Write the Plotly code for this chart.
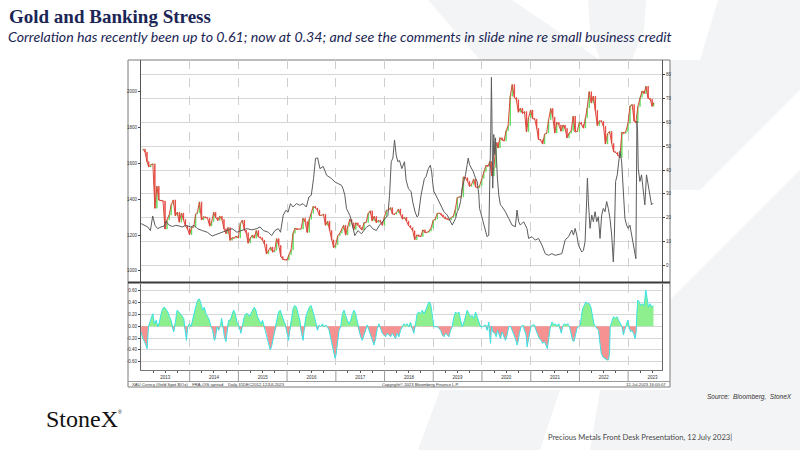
import calendar
import numpy as np
import pandas as pd
import plotly.graph_objects as go

# ---------------- data ----------------
# Gold spot, semi-monthly closes (15th and month end), Jan-2013 .. 12-Jul-2023
gold_2013 = [1680, 1663, 1610, 1580, 1592, 1597, 1350, 1472, 1395, 1392, 1390, 1234,
             1285, 1312, 1368, 1396, 1308, 1327, 1272, 1323, 1287, 1251, 1235, 1202]
gold_2014 = [1242, 1244, 1318, 1326, 1385, 1284, 1302, 1296, 1294, 1250, 1275, 1327,
             1297, 1282, 1305, 1287, 1235, 1209, 1242, 1171, 1185, 1183, 1194, 1184]
gold_2015 = [1265, 1283, 1228, 1213, 1155, 1183, 1200, 1183, 1225, 1190, 1185, 1172,
             1150, 1095, 1115, 1133, 1105, 1115, 1180, 1142, 1080, 1065, 1062, 1061]
gold_2016 = [1090, 1118, 1210, 1238, 1232, 1233, 1234, 1293, 1275, 1215, 1288, 1322,
             1360, 1351, 1340, 1309, 1310, 1316, 1255, 1277, 1225, 1173, 1130, 1146]
gold_2017 = [1196, 1211, 1233, 1255, 1200, 1249, 1288, 1268, 1230, 1268, 1255, 1242,
             1228, 1269, 1270, 1320, 1335, 1280, 1304, 1270, 1282, 1275, 1255, 1303]
gold_2018 = [1338, 1340, 1353, 1318, 1316, 1325, 1345, 1315, 1290, 1299, 1278, 1253,
             1241, 1224, 1174, 1201, 1194, 1192, 1229, 1214, 1215, 1222, 1238, 1282]
gold_2019 = [1289, 1321, 1322, 1313, 1302, 1292, 1289, 1284, 1297, 1305, 1342, 1409,
             1413, 1413, 1524, 1520, 1500, 1472, 1482, 1513, 1468, 1464, 1476, 1517]
gold_2020 = [1555, 1589, 1584, 1610, 1530, 1577, 1716, 1687, 1743, 1730, 1726, 1781,
             1810, 1975, 2040, 1968, 1955, 1886, 1908, 1879, 1889, 1776, 1855, 1898]
gold_2021 = [1850, 1847, 1795, 1734, 1731, 1708, 1764, 1769, 1844, 1906, 1858, 1770,
             1829, 1814, 1780, 1814, 1795, 1743, 1768, 1783, 1863, 1776, 1778, 1829]
gold_2022 = [1818, 1797, 1854, 1909, 2000, 1937, 1975, 1896, 1811, 1838, 1835, 1807,
             1708, 1766, 1778, 1711, 1665, 1661, 1645, 1633, 1773, 1768, 1778, 1824]
gold_2023 = [1920, 1928, 1836, 1827, 1918, 1969, 2004, 1990, 2030, 1963, 1958, 1919,
             1938]
gold_last_date = "2023-07-12"

# FRA-OIS spread (bp), time in years since 1-Jan-2013
fra_years = [0.003, 0.071, 0.139, 0.193, 0.24, 0.288, 0.342, 0.41, 0.478, 0.512, 0.58, 0.647,
             0.715, 0.783, 0.851, 0.919, 1.02, 1.088, 1.156, 1.258, 1.36, 1.461, 1.563, 1.664,
             1.766, 1.868, 1.969, 2.071, 2.173, 2.275, 2.376, 2.444, 2.512, 2.614, 2.681, 2.749,
             2.817, 2.864, 2.919, 2.973, 3.02, 3.068, 3.122, 3.19, 3.258, 3.325, 3.393, 3.447,
             3.495, 3.542, 3.583, 3.626, 3.673, 3.741, 3.81, 3.912, 3.98, 4.048, 4.116, 4.15,
             4.184, 4.218, 4.252, 4.286, 4.32, 4.354, 4.388, 4.456, 4.524, 4.626, 4.694, 4.762,
             4.83, 4.898, 4.946, 5.0, 5.068, 5.102, 5.136, 5.17, 5.204, 5.238, 5.272, 5.306,
             5.354, 5.408, 5.442, 5.49, 5.544, 5.578, 5.626, 5.667, 5.694, 5.748, 5.816, 5.85,
             5.898, 5.939, 5.966, 6.0, 6.014, 6.082, 6.15, 6.218, 6.286, 6.354, 6.389, 6.423,
             6.457, 6.491, 6.525, 6.559, 6.593, 6.627, 6.661, 6.695, 6.716, 6.743, 6.784, 6.818,
             6.866, 6.9, 6.934, 6.948, 6.968, 7.002, 7.036, 7.07, 7.104, 7.138, 7.159, 7.179,
             7.193, 7.207, 7.22, 7.241, 7.261, 7.275, 7.295, 7.316, 7.343, 7.377, 7.411, 7.479,
             7.547, 7.616, 7.684, 7.718, 7.752, 7.786, 7.854, 7.922, 7.956, 8.025, 8.093, 8.161,
             8.229, 8.297, 8.365, 8.434, 8.502, 8.57, 8.638, 8.706, 8.774, 8.843, 8.877, 8.911,
             8.945, 8.979, 9.047, 9.081, 9.115, 9.149, 9.163, 9.183, 9.217, 9.252, 9.286, 9.32,
             9.354, 9.388, 9.422, 9.456, 9.49, 9.524, 9.558, 9.592, 9.626, 9.661, 9.695, 9.715,
             9.742, 9.776, 9.811, 9.831, 9.865, 9.899, 9.933, 9.967, 10.001, 10.035, 10.07,
             10.104, 10.138, 10.158, 10.179, 10.193, 10.206, 10.24, 10.274, 10.308, 10.342,
             10.376, 10.41, 10.444, 10.479, 10.513]
fra_bps = [17.5, 16.8, 16.1, 14.6, 20.7, 16.8, 15.4, 16.1, 16.5, 18.5, 16.8, 16.3,
           16.8, 16.5, 16.1, 16.8, 16.1, 16.8, 15.4, 14.6, 13.9, 12.3, 13.2, 13.9,
           14.6, 15.4, 13.9, 14.6, 15.4, 14.9, 15.4, 16.1, 14.6, 13.9, 12.5, 14.6,
           15.4, 13.9, 21.0, 23.1, 22.4, 25.9, 24.5, 25.9, 25.2, 25.9, 24.5, 28.7,
           29.4, 36.5, 44.9, 45.1, 40.6, 41.5, 37.8, 36.4, 35.0, 34.3, 33.6, 32.0,
           29.4, 23.8, 22.6, 21.0, 18.6, 15.3, 12.5, 14.6, 13.2, 16.0, 16.9, 15.3,
           14.6, 16.9, 18.1, 19.5, 21.0, 29.4, 43.5, 45.0, 52.6, 46.3, 43.5, 44.0,
           40.6, 43.5, 35.7, 32.2, 30.9, 26.6, 22.4, 20.3, 21.0, 29.4, 36.4, 37.2,
           40.6, 42.0, 39.2, 32.4, 31.0, 28.2, 25.4, 22.5, 21.1, 18.3, 16.9, 18.3,
           19.7, 22.5, 23.9, 26.8, 32.4, 35.2, 38.0, 42.3, 45.0, 42.3, 40.8, 39.4,
           36.6, 35.2, 29.6, 23.9, 22.5, 19.7, 16.9, 14.1, 12.0, 12.7, 29.6, 56.3,
           78.9, 46.5, 32.4, 54.9, 46.5, 53.5, 42.3, 36.6, 29.6, 25.4, 24.6, 22.5,
           19.7, 16.9, 16.2, 23.2, 18.3, 16.9, 18.3, 15.5, 11.3, 12.0, 10.6, 11.3,
           8.5, 4.9, 4.2, 4.9, 4.2, 4.5, 4.9, 10.6, 12.0, 14.8, 12.7, 15.5,
           12.7, 8.5, 5.6, 6.3, 9.9, 28.2, 36.6, 26.8, 15.5, 21.1, 18.3, 22.5,
           18.3, 20.4, 11.3, 21.1, 23.9, 22.5, 26.8, 23.9, 19.7, 12.7, 1.4, 11.3,
           35.2, 38.0, 43.7, 47.9, 43.7, 32.4, 19.7, 16.9, 15.5, 16.9, 12.7,
           8.5, 4.2, 2.8, 60.6, 56.3, 40.8, 35.2, 38.0, 32.4, 25.4,
           38.0, 33.8, 29.6, 25.4, 26.1]

# Rolling correlation, time in years since 1-Jan-2013
corr_years = [0.003, 0.038, 0.072, 0.106, 0.126, 0.154, 0.195, 0.242, 0.276, 0.311, 0.345, 0.379,
              0.413, 0.447, 0.481, 0.515, 0.549, 0.584, 0.618, 0.652, 0.672, 0.7, 0.741, 0.775,
              0.809, 0.836, 0.877, 0.911, 0.932, 0.959, 0.993, 1.027, 1.061, 1.096, 1.13, 1.164,
              1.198, 1.232, 1.266, 1.3, 1.334, 1.369, 1.403, 1.437, 1.471, 1.505, 1.526, 1.56,
              1.594, 1.628, 1.655, 1.689, 1.71, 1.744, 1.765, 1.799, 1.833, 1.867, 1.901, 1.935,
              1.969, 2.003, 2.024, 2.051, 2.078, 2.119, 2.154, 2.188, 2.222, 2.256, 2.29, 2.324,
              2.358, 2.392, 2.427, 2.461, 2.495, 2.529, 2.563, 2.597, 2.631, 2.652, 2.679, 2.713,
              2.747, 2.788, 2.823, 2.857, 2.891, 2.925, 2.959, 2.986, 3.007, 3.027, 3.055, 3.089,
              3.123, 3.157, 3.191, 3.225, 3.259, 3.294, 3.328, 3.348, 3.382, 3.416, 3.457, 3.491,
              3.526, 3.56, 3.594, 3.621, 3.655, 3.689, 3.724, 3.758, 3.792, 3.826, 3.86, 3.894,
              3.928, 3.962, 3.983, 4.003, 4.031, 4.065, 4.099, 4.133, 4.167, 4.201, 4.235, 4.27,
              4.304, 4.338, 4.372, 4.406, 4.44, 4.474, 4.509, 4.543, 4.577, 4.611, 4.645, 4.679,
              4.713, 4.747, 4.782, 4.816, 4.85, 4.884, 4.918, 4.952, 4.986, 5.02, 5.055, 5.089,
              5.123, 5.157, 5.191, 5.225, 5.259, 5.294, 5.328, 5.362, 5.396, 5.43, 5.464, 5.498,
              5.532, 5.567, 5.601, 5.635, 5.669, 5.703, 5.737, 5.775, 5.809, 5.843, 5.877, 5.911,
              5.945, 5.98, 6.014, 6.048, 6.082, 6.116, 6.15, 6.184, 6.218, 6.253, 6.287, 6.321,
              6.355, 6.389, 6.423, 6.457, 6.491, 6.526, 6.56, 6.594, 6.628, 6.662, 6.696, 6.73,
              6.765, 6.799, 6.833, 6.867, 6.901, 6.935, 6.969, 7.003, 7.038, 7.072, 7.106, 7.14,
              7.154, 7.174, 7.195, 7.222, 7.263, 7.29, 7.317, 7.345, 7.379, 7.413, 7.447, 7.481,
              7.515, 7.549, 7.584, 7.618, 7.652, 7.686, 7.72, 7.741, 7.768, 7.802, 7.836, 7.877,
              7.904, 7.925, 7.945, 7.98, 8.007, 8.041, 8.075, 8.109, 8.143, 8.177, 8.212, 8.246,
              8.28, 8.314, 8.341, 8.369, 8.403, 8.437, 8.471, 8.505, 8.539, 8.573, 8.608, 8.628,
              8.655, 8.689, 8.724, 8.758, 8.792, 8.826, 8.86, 8.887, 8.915, 8.949, 8.983, 9.017,
              9.038, 9.065, 9.099, 9.133, 9.167, 9.201, 9.235, 9.27, 9.297, 9.324, 9.358, 9.392,
              9.413, 9.447, 9.481, 9.515, 9.563, 9.597, 9.618, 9.631, 9.666, 9.7, 9.734, 9.768,
              9.802, 9.836, 9.87, 9.884, 9.904, 9.925, 9.952, 9.973, 9.993, 10.02, 10.048, 10.075,
              10.109, 10.143, 10.164, 10.177, 10.198, 10.225, 10.259, 10.294, 10.328, 10.362,
              10.382, 10.416, 10.451, 10.485, 10.519]
corr_vals = [-0.10, -0.21, -0.26, -0.35, -0.38, 0.00, 0.10, 0.21, 0.04, 0.10, -0.01, 0.07,
             0.21, 0.30, 0.32, 0.27, 0.24, 0.16, 0.10, -0.04, -0.10, 0.04, 0.27, 0.24,
             0.21, 0.18, 0.13, -0.07, -0.24, -0.01, 0.04, -0.01, 0.13, 0.24, 0.35, 0.44,
             0.46, 0.38, 0.27, 0.32, 0.21, 0.16, 0.10, -0.01, -0.07, -0.24, -0.21, -0.01,
             -0.07, 0.00, 0.13, -0.04, -0.18, -0.26, -0.07, 0.10, 0.10, 0.21, 0.27, 0.21,
             0.07, 0.02, -0.04, -0.12, -0.01, 0.16, 0.21, 0.21, 0.16, 0.21, 0.27, 0.32,
             0.27, 0.16, 0.10, 0.04, 0.10, -0.01, -0.07, -0.21, -0.32, -0.40, -0.35, -0.21,
             -0.10, 0.10, 0.24, 0.27, 0.16, 0.10, 0.04, -0.07, -0.18, -0.24, -0.07, 0.16,
             0.30, 0.35, 0.32, 0.21, 0.10, -0.12, -0.24, -0.07, 0.16, 0.24, 0.32, 0.35,
             0.27, 0.16, 0.04, -0.07, 0.02, -0.01, 0.04, -0.01, 0.02, -0.01, -0.07, -0.21,
             -0.35, -0.49, -0.54, -0.49, -0.29, -0.07, -0.01, 0.21, 0.27, 0.16, 0.10, 0.04,
             0.10, 0.21, 0.27, 0.21, 0.07, -0.10, -0.18, -0.24, -0.15, -0.07, 0.02, -0.07,
             -0.15, -0.26, -0.32, -0.21, -0.04, 0.04, -0.04, -0.12, -0.15, -0.18, -0.12, -0.15,
             -0.18, -0.12, -0.18, -0.21, -0.12, -0.18, -0.07, -0.01, 0.04, 0.02, 0.04, -0.01,
             0.07, -0.04, -0.12, 0.04, 0.21, 0.24, 0.21, 0.27, 0.21, 0.27, 0.35, 0.41,
             0.38, 0.13, -0.01, -0.01, -0.01, -0.04, -0.07, -0.15, -0.18, -0.12, -0.15, -0.18,
             -0.07, -0.01, 0.16, 0.24, 0.21, 0.24, 0.10, -0.01, 0.07, 0.18, 0.27, 0.21,
             0.16, 0.18, 0.13, 0.24, 0.16, 0.07, -0.01, -0.01, 0.00, 0.02, -0.07, 0.07,
             -0.12, -0.29, 0.00, -0.10, -0.12, -0.18, -0.07, -0.15, -0.21, -0.10, -0.18, -0.24,
             -0.15, -0.01, 0.00, -0.07, -0.12, -0.21, -0.32, -0.26, -0.12, -0.01, 0.02, -0.07,
             -0.15, -0.35, -0.26, -0.07, 0.00, 0.02, 0.02, -0.07, -0.15, -0.21, -0.24, -0.29,
             -0.26, -0.32, -0.38, -0.21, -0.01, 0.07, 0.02, 0.04, 0.00, 0.04, -0.07, -0.12,
             0.00, 0.04, 0.02, 0.04, 0.00, -0.12, -0.24, -0.26, -0.18, -0.04, 0.00, 0.02,
             0.16, 0.30, 0.35, 0.41, 0.38, 0.38, 0.32, 0.16, 0.04, 0.00, -0.04, -0.07,
             -0.24, -0.46, -0.52, -0.54, -0.57, -0.57, -0.46, 0.00, 0.07, 0.16, 0.13, 0.16,
             0.10, 0.04, 0.00, -0.07, -0.15, -0.07, 0.00, 0.07, 0.10, 0.00, -0.10, -0.07,
             -0.12, -0.21, -0.10, 0.21, 0.44, 0.41, 0.35, 0.38, 0.35, 0.61,
             0.46, 0.32, 0.38, 0.32, 0.35]

left_ticks = [1000, 1200, 1400, 1600, 1800, 2000]
right_ticks = [0, 10, 20, 30, 40, 50, 60, 70, 80]
corr_ticks = [-0.6, -0.4, -0.2, 0.0, 0.2, 0.4, 0.6]
year_starts = [f"{y}-01-01" for y in range(2013, 2024)]

# ---------------- derived ----------------
W, H = 800, 450
def px(x):
    return x / W
def py(y):
    return 1 - y / H

origin = pd.Timestamp("2013-01-01")
def yr2date(t):
    return origin + pd.to_timedelta(np.asarray(t, dtype=float) * 365.25, unit="D")

gold_close = (gold_2013 + gold_2014 + gold_2015 + gold_2016 + gold_2017 + gold_2018 +
              gold_2019 + gold_2020 + gold_2021 + gold_2022 + gold_2023)
gold_dates = []
for yy in range(2013, 2024):
    for mm in range(1, 13):
        for dd in (15, calendar.monthrange(yy, mm)[1]):
            gold_dates.append(pd.Timestamp(yy, mm, dd))
gold_dates = gold_dates[:len(gold_close) - 1] + [pd.Timestamp(gold_last_date)]
gold_open = [gold_close[0]] + gold_close[:-1]
gold_high = [max(o, c) for o, c in zip(gold_open, gold_close)]
gold_low = [min(o, c) for o, c in zip(gold_open, gold_close)]

fra_dates = yr2date(fra_years)
corr_dates = yr2date(corr_years)
corr_arr = np.array(corr_vals)
corr_pos = np.maximum(corr_arr, 0)
corr_neg = np.minimum(corr_arr, 0)

# ---------------- figure ----------------
fig = go.Figure()

fig.add_trace(go.Scatter(x=fra_dates, y=fra_bps, mode="lines", yaxis="y2", xaxis="x",
                         line=dict(color="#5c5c5c", width=1), hoverinfo="skip"))
# thin connecting line under the candles
fig.add_trace(go.Scatter(x=gold_dates, y=gold_close, mode="lines", xaxis="x", yaxis="y",
                         line=dict(color="#d84a3a", width=1), hoverinfo="skip"))
fig.add_trace(go.Candlestick(x=gold_dates, open=gold_open, high=gold_high, low=gold_low,
                             close=gold_close, xaxis="x", yaxis="y",
                             increasing=dict(line=dict(color="#4cd84c", width=0.6), fillcolor="#4cd84c"),
                             decreasing=dict(line=dict(color="#e8312b", width=0.6), fillcolor="#e8312b"),
                             whiskerwidth=0, hoverinfo="skip"))

fig.add_trace(go.Scatter(x=corr_dates, y=corr_pos, mode="lines", fill="tozeroy",
                         fillcolor="#8def8d", line=dict(width=0, color="#8def8d"),
                         xaxis="x2", yaxis="y3", hoverinfo="skip"))
fig.add_trace(go.Scatter(x=corr_dates, y=corr_neg, mode="lines", fill="tozeroy",
                         fillcolor="#f79292", line=dict(width=0, color="#f79292"),
                         xaxis="x2", yaxis="y3", hoverinfo="skip"))
fig.add_trace(go.Scatter(x=corr_dates, y=corr_vals, mode="lines",
                         line=dict(color="#38e3e6", width=1),
                         xaxis="x2", yaxis="y3", hoverinfo="skip"))

tickfont = dict(family="Liberation Sans", size=4.5, color="#333333")
xr = ["2013-01-01", "2023-09-12"]
xdom = [px(141), px(662)]

# ---- watermark + chart frame shapes ----
def poly(points):
    return "M " + " L ".join(f"{px(x):.4f},{py(y):.4f}" for x, y in points) + " Z"

wm = "#f3f4f6"
shapes = []
for pts in [
    [(428, 0), (512, 0), (600, 60), (480, 60)],
    [(588, 0), (646, 0), (644, 30), (632, 60), (600, 60), (590, 30)],
    [(718, 0), (800, 0), (800, 90), (700, 190), (670, 190), (670, 60), (700, 60)],
    [(670, 300), (800, 170), (800, 450), (740, 450), (700, 390), (670, 390)],
    [(418, 450), (440, 390), (560, 390), (540, 450)],
    [(590, 450), (600, 390), (700, 390), (740, 450)],
]:
    shapes.append(dict(type="path", path=poly(pts), xref="paper", yref="paper",
                       fillcolor=wm, line=dict(width=0), layer="below"))
shapes.append(dict(type="rect", xref="paper", yref="paper", x0=px(128), x1=px(670),
                   y0=py(387), y1=py(60), fillcolor="white",
                   line=dict(color="#7a7a7a", width=1), layer="below"))
# heavy panel separator
shapes.append(dict(type="line", xref="paper", yref="paper", x0=px(128), x1=px(670),
                   y0=py(282.5), y1=py(282.5), line=dict(color="#3a3a3a", width=2)))
# separator above info row
shapes.append(dict(type="line", xref="paper", yref="paper", x0=px(128), x1=px(670),
                   y0=py(381.5), y1=py(381.5), line=dict(color="#9a9a9a", width=1)))
# year separators in the label row
for ys in year_starts[1:]:
    shapes.append(dict(type="line", xref="x2", yref="paper", x0=ys, x1=ys,
                       y0=py(370), y1=py(381.5), line=dict(color="#9a9a9a", width=1)))

fig.update_layout(
    width=W, height=H, margin=dict(l=0, r=0, t=0, b=0),
    paper_bgcolor="white", plot_bgcolor="rgba(0,0,0,0)",
    showlegend=False, shapes=shapes, boxgap=0.5,
    xaxis=dict(domain=xdom, range=xr, anchor="y", type="date", showticklabels=False,
               showgrid=True, gridcolor="#cfcfcf", griddash="dash", gridwidth=1,
               tick0="2013-01-01", dtick="M12", ticks="", zeroline=False,
               rangeslider=dict(visible=False), showline=False),
    yaxis=dict(domain=[py(282), py(60)], range=[938, 2177], tickvals=left_ticks,
               ticktext=[str(v) for v in left_ticks], tickfont=tickfont,
               ticks="outside", ticklen=2, tickcolor="#444", showline=True,
               linecolor="#555", linewidth=1, showgrid=False, zeroline=False),
    yaxis2=dict(overlaying="y", side="right", anchor="x", range=[-7, 86.2],
                tickvals=right_ticks, ticktext=[str(v) for v in right_ticks],
                tickfont=tickfont, ticks="outside", ticklen=2, tickcolor="#444",
                showline=True, linecolor="#555", linewidth=1, showgrid=True,
                gridcolor="#d6d6d6", gridwidth=1, zeroline=False),
    xaxis2=dict(domain=xdom, range=xr, anchor="y3", type="date", matches="x",
                tick0="2013-01-01", dtick="M12", ticklabelmode="period", tickformat="%Y",
                tickfont=tickfont, ticks="", showgrid=True, gridcolor="#cfcfcf",
                griddash="dash", showline=True, linecolor="#777", linewidth=1,
                zeroline=False, ticklabelstandoff=3,
                minor=dict(dtick="M3", tick0="2013-01-01", ticks="outside", ticklen=2,
                           tickcolor="#555", showgrid=False)),
    yaxis3=dict(domain=[py(370), py(283.5)], range=[-0.74, 0.72], anchor="x2",
                tickvals=corr_ticks, ticktext=[f"{v:.2f}" for v in corr_ticks],
                tickfont=tickfont, ticks="outside", ticklen=2, tickcolor="#444",
                showline=True, mirror=True, linecolor="#666", linewidth=1,
                showgrid=True, gridcolor="#d6d6d6", zeroline=False),
)

navy = "#1b2656"
ann = [
    dict(text="<b>Gold and Banking Stress</b>", x=px(7), y=py(16), xanchor="left", yanchor="middle",
         font=dict(family="Liberation Serif", size=19, color=navy)),
    dict(text="<i>Correlation has recently been up to 0.61; now at 0.34; and see the comments in slide nine re small business credit</i>",
         x=px(6), y=py(36.5), xanchor="left", yanchor="middle",
         font=dict(family="Lato", size=14.2, color=navy)),
    dict(text="XAU Curncy (Gold Spot $/Oz)    FRA-OIS spread    Daily 31DEC2012-12JUL2023",
         x=px(130), y=py(384.5), xanchor="left", yanchor="middle",
         font=dict(family="Liberation Sans", size=4.2, color="#333")),
    dict(text="Copyright© 2023 Bloomberg Finance L.P.", x=px(420), y=py(384.5),
         xanchor="center", yanchor="middle",
         font=dict(family="Liberation Sans", size=4.2, color="#333")),
    dict(text="12-Jul-2023 16:00:07", x=px(668), y=py(384.5), xanchor="right", yanchor="middle",
         font=dict(family="Liberation Sans", size=4.2, color="#333")),
    dict(text="<i>Source:  Bloomberg,  StoneX</i>", x=px(794), y=py(396.5), xanchor="right",
         yanchor="middle", font=dict(family="Liberation Sans", size=6.5, color="#333")),
    dict(text="StoneX", x=px(44), y=py(419), xanchor="left", yanchor="middle",
         font=dict(family="Liberation Serif", size=24, color="#111")),
    dict(text="®", x=px(116), y=py(412), xanchor="left", yanchor="middle",
         font=dict(family="Liberation Sans", size=5, color="#111")),
    dict(text="Precious Metals Front Desk Presentation, 12 July 2023|", x=px(546), y=py(437),
         xanchor="left", yanchor="middle", font=dict(family="Lato", size=7.6, color="#4a4a4a")),
]
for a in ann:
    a.update(xref="paper", yref="paper", showarrow=False)
fig.update_layout(annotations=ann)

fig.write_html("out.html", config={"displayModeBar": False},
               post_script="document.body.style.margin='0';document.body.style.overflow='hidden';")
